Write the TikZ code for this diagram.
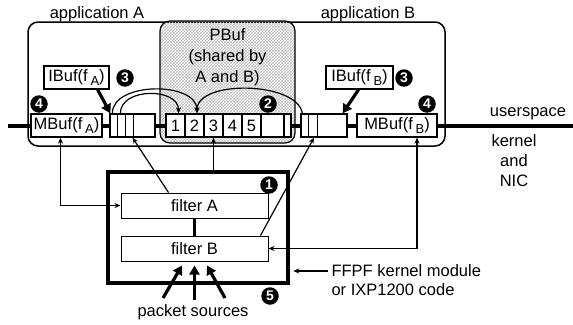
\documentclass[tikz,border=0pt]{standalone}
\usepackage{fontspec}
\setmainfont{Liberation Sans}
\usetikzlibrary{arrows.meta,patterns}
\newcommand\sbx[1]{\,\raisebox{-3.5pt}{\fontsize{13}{13}\selectfont #1}}
\begin{document}
\begin{tikzpicture}[x=1pt,y=-1pt,
  font=\fontsize{16.5}{20}\selectfont,
  box/.style={draw, line width=1.3pt, fill=white, inner sep=0pt, minimum height=23pt},
  fbox/.style={draw, line width=1pt, fill=white, inner sep=0pt, minimum width=147pt, minimum height=25pt},
  num/.style={circle, fill=black, text=white, inner sep=0pt, minimum size=17.5pt, font=\fontsize{14}{14}\selectfont\bfseries},
  conn/.style={line width=1.2pt},
  tip/.style={-{Stealth[length=6pt,width=5pt]}},
  both/.style={{Stealth[length=6pt,width=5pt]}-{Stealth[length=6pt,width=5pt]}},
  fat/.style={line width=3.2pt, -{Triangle[length=9pt,width=10pt]}},
  rbox/.style={draw, rounded corners=10pt, inner sep=0pt},
]
\useasboundingbox (0,0) rectangle (573,324);
% outer application box and shared buffer
\node[rbox, line width=1.5pt, minimum width=417pt, minimum height=124pt] (app) at (236.5,84) {};
\node[rbox, line width=1.2pt, pattern=crosshatch, pattern color=gray!50, minimum width=135pt, minimum height=122pt] (pbuf) at (227.5,82) {};
\node (appA) at (97,14) {application A};
\node (appB) at (368,14) {application B};
\node[align=center, font=\fontsize{16.5}{21}\selectfont] (pbtxt) at (227.5,57) {PBuf\\(shared by\\A and B)};
% userspace line
\coordinate (ul) at (8,126);
\coordinate (ur) at (573,126);
\draw[line width=4pt] (ul) -- (ur);
\node (us) at (528,114) {userspace};
\node[align=center] (kn) at (514,161) {kernel\\and\\NIC};
% buffers
\node[box, minimum width=71pt] (mbA) at (66.5,125.5) {MBuf(f\sbx{A})};
\node[box, minimum width=65pt] (ibA) at (76.5,77.5) {IBuf(f\sbx{A})};
\node[box, minimum width=45pt] (qA) at (132.5,125.5) {};
\foreach \d in {8,16,24} \draw[line width=1pt] ([xshift=\d pt]qA.north west) -- ([xshift=\d pt]qA.south west);
\foreach \i/\x in {1/175.5,2/194.5,3/213.5,4/232.5,5/251.5}
  \node[box, minimum width=19pt] (c\i) at (\x,125.5) {\i};
\node[box, minimum width=23pt] (c6) at (272.5,125.5) {};
\node[box, minimum width=7pt] (c7) at (287.5,125.5) {};
\node[box, minimum width=46pt] (qB) at (324,125.5) {};
\foreach \d in {8,17} \draw[line width=1pt] ([xshift=\d pt]qB.north west) -- ([xshift=\d pt]qB.south west);
\node[box, minimum width=80pt] (mbB) at (397,125.5) {MBuf(f\sbx{B})};
\node[box, minimum width=67pt] (ibB) at (359.5,77.5) {IBuf(f\sbx{B})};
% arcs
\draw[conn,tip] ([xshift=3pt]qA.north west) .. controls +(0,-32) and +(0,-32) .. ([xshift=2.5pt]c2.north);
\draw[conn,tip] ([xshift=11pt]qA.north west) .. controls +(0,-26) and +(0,-26) .. ([xshift=3pt]c1.north);
\draw[conn,tip] ([xshift=2pt]qB.north west) .. controls +(-5,-32) and +(0,-34) .. ([xshift=2.5pt]c2.north);
% IBuf arrows
\draw[fat] ([xshift=-12pt]ibA.south east) -- ([xshift=1pt]qA.north west);
\draw[fat] ([xshift=-1pt]ibB.south) -- ([xshift=-5pt]qB.north east);
% kernel module
\node[draw, line width=4.5pt, minimum width=180pt, minimum height=111pt, inner sep=0pt] (mod) at (198,227.5) {};
\node[fbox] (fA) at (194.5,205.5) {filter A};
\node[fbox] (fB) at (194.5,248.5) {filter B};
\draw[line width=3pt] (fA) -- (fB);
% connectors
\draw[conn,tip] ([xshift=-26pt]fA.north) -- (qA.south);
\draw[conn,tip] ([xshift=-8pt]fB.north east) -- ([xshift=-10pt]qB.south);
\draw[conn,tip] (mod.north -| c3.south) -- (c3.south);
\draw[conn,both] ([xshift=-6pt]mbA.south) |- (fA.west);
\draw[conn,both] ([xshift=20pt]mbB.south) |- (fB.east);
% FFPF label
\node[anchor=west] (ff1) at (328,271) {FFPF kernel module};
\node[anchor=west] (ff2) at (328,290) {or IXP1200 code};
\coordinate (modE) at ([xshift=3pt]mod.east);
\draw[conn,tip] (ff1.west) -- (modE |- ff1.west);
% packet sources
\node (ps) at (193,312) {packet sources};
\coordinate (ps1) at (163,298);
\coordinate (ps2) at (194.5,300);
\coordinate (ps3) at (225,298);
\draw[fat] (ps1) -- ([shift={(-12.5pt,-4pt)}]fB.south);
\draw[fat] (ps2) -- ([yshift=-4pt]fB.south);
\draw[fat] (ps3) -- ([shift={(12.5pt,-4pt)}]fB.south);
% numbers
\node[num] (n1) at (269,185) {1};
\node[num] (n2) at (268,104) {2};
\node[num] (n3a) at (125,78) {3};
\node[num] (n3b) at (404,78) {3};
\node[num] (n4a) at (39,104) {4};
\node[num] (n4b) at (427,104) {4};
\node[num] (n5) at (270,296) {5};
\end{tikzpicture}
\end{document}
